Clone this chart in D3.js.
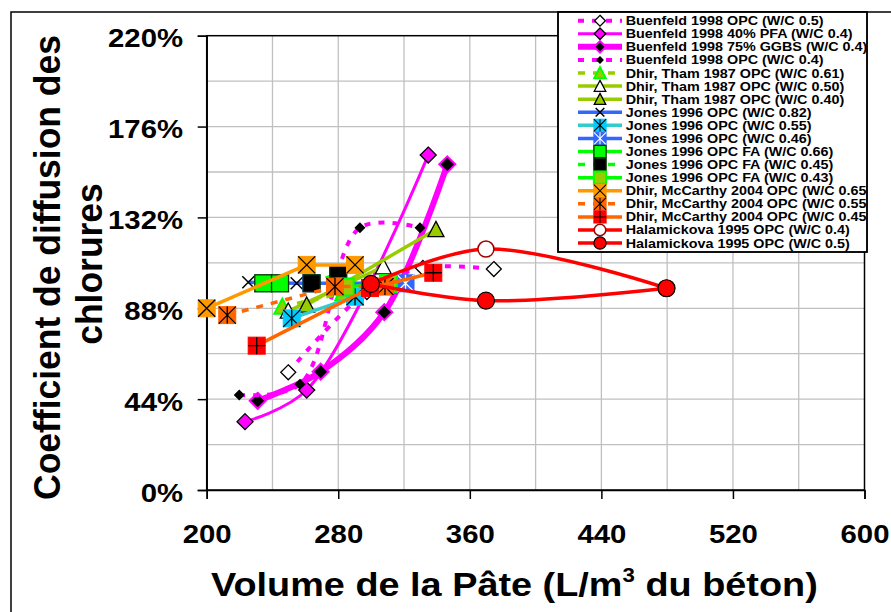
<!DOCTYPE html>
<html><head><meta charset="utf-8">
<script src="https://cdn.jsdelivr.net/npm/d3@7"></script>
<style>
body{margin:0;background:#fff}
svg{display:block}
text{font-family:Arial,"Liberation Sans",sans-serif;font-weight:bold;fill:#000}
</style>
</head><body>
<svg id="chart" width="891" height="612"></svg>
<script>
// ---------- DATA ----------
const xTickValues = [200, 280, 360, 440, 520, 600];
const yTickValues = [0, 44, 88, 132, 176, 220];
const xGridValues = [240, 280, 320, 360, 400, 440, 480, 520, 560];
const yGridValues = [22, 44, 66, 88, 110, 132, 154, 176, 198];

const seriesNames = [
  "Buenfeld 1998 OPC (W/C 0.5)",
  "Buenfeld 1998 40% PFA (W/C 0.4)",
  "Buenfeld 1998 75% GGBS (W/C 0.4)",
  "Buenfeld 1998 OPC (W/C 0.4)",
  "Dhir, Tham 1987 OPC (W/C 0.61)",
  "Dhir, Tham 1987 OPC (W/C 0.50)",
  "Dhir, Tham 1987 OPC (W/C 0.40)",
  "Jones 1996 OPC (W/C 0.82)",
  "Jones 1996 OPC (W/C 0.55)",
  "Jones 1996 OPC (W/C 0.46)",
  "Jones 1996 OPC FA (W/C 0.66)",
  "Jones 1996 OPC FA (W/C 0.45)",
  "Jones 1996 OPC FA (W/C 0.43)",
  "Dhir, McCarthy 2004 OPC (W/C 0.65)",
  "Dhir, McCarthy 2004 OPC (W/C 0.55)",
  "Dhir, McCarthy 2004 OPC (W/C 0.45)",
  "Halamickova 1995 OPC (W/C 0.4)",
  "Halamickova 1995 OPC (W/C 0.5)"
];

// [paste volume L/m3, chloride diffusion coefficient %]
const buenfeldOpc05   = [[249.6, 57.0], [297.4, 95.9], [331.5, 107.5], [374.6, 107.0]];
const buenfeldPfa40   = [[223.3, 33.1], [260.8, 48.4], [334.7, 162.2]];
const buenfeldGgbs75  = [[231.0, 43.2], [269.3, 57.3], [308.0, 86.1], [346.3, 157.7]];
const buenfeldOpc04   = [[219.8, 46.0], [256.7, 51.2], [293.2, 127.0], [329.7, 127.0]];
const dhirTham061     = [[246.0, 88.8], [283.0, 95.4]];
const dhirTham050     = [[249.6, 86.7], [307.4, 108.1]];
const dhirTham040     = [[260.8, 89.6], [339.4, 126.2]];
const jonesOpc082     = [[225.3, 100.6], [254.7, 100.1], [263.6, 100.1]];
const jonesOpc055     = [[251.7, 83.1], [290.2, 93.6]];
const jonesOpc046     = [[263.6, 100.1], [320.9, 100.1]];
const jonesFa066      = [[234.4, 100.1], [244.6, 100.1]];
const jonesFa045      = [[263.8, 100.1], [280.0, 104.9]];
const jonesFa043      = [[284.2, 98.3], [310.5, 100.0]];
const dhirMcCarthy065 = [[200.0, 88.0], [260.8, 109.0], [290.2, 109.0]];
const dhirMcCarthy055 = [[212.5, 84.7], [278.0, 98.5], [308.4, 98.5]];
const dhirMcCarthy045 = [[230.4, 69.9], [299.3, 97.8], [337.8, 105.2]];
const halamickova04   = [[299.9, 99.8], [369.8, 116.7], [479.6, 97.7]];
const halamickova05   = [[299.9, 99.8], [369.8, 91.7], [479.6, 97.7]];

const seriesData = [buenfeldOpc05, buenfeldPfa40, buenfeldGgbs75, buenfeldOpc04,
  dhirTham061, dhirTham050, dhirTham040, jonesOpc082, jonesOpc055, jonesOpc046,
  jonesFa066, jonesFa045, jonesFa043, dhirMcCarthy065, dhirMcCarthy055, dhirMcCarthy045,
  halamickova04, halamickova05];

// ---------- STYLES ----------
const MAG = "#FF00FF", YG = "#99CC00", GR = "#00FF00", BL = "#3366FF", CY = "#33CCCC",
      OR = "#FF9900", OR2 = "#FF6600", RD = "#FF0000";
const styles = [
  {c: MAG, w: 4, dash: "6,8", smooth: true, m: {shape: "diamond", r: 7.5, fill: "#fff", stroke: "#000", sw: 1.3}},
  {c: MAG, w: 3, smooth: true, m: {shape: "diamond", r: 8, fill: MAG, stroke: "#000", sw: 1.3}},
  {c: MAG, w: 6, smooth: true, m: {shape: "diamond", r: 8, fill: "#000", stroke: MAG, sw: 2}},
  {c: MAG, w: 4, dash: "6,8", smooth: true, m: {shape: "diamond", r: 5.5, fill: "#000", stroke: "none", sw: 0}},
  {c: YG, w: 3.5, dash: "7,8", m: {shape: "triangle", r: 8, fill: YG, stroke: GR, sw: 2}},
  {c: YG, w: 3.5, m: {shape: "triangle", r: 8, fill: "#fff", stroke: "#000", sw: 1.3}},
  {c: YG, w: 3.5, m: {shape: "triangle", r: 8, fill: YG, stroke: "#000", sw: 1.3}},
  {c: BL, w: 3.5, m: {shape: "x", r: 6, stroke: "#000", sw: 1.5}},
  {c: CY, w: 3.5, m: {shape: "square", r: 8.5, fill: "#00CCFF", stroke: "#00CCFF", sw: 1, sym: "ast", symc: "#000"}},
  {c: BL, w: 3.5, m: {shape: "square", r: 8.5, fill: BL, stroke: BL, sw: 1, sym: "ast", symc: "#fff"}},
  {c: GR, w: 3.5, m: {shape: "square", r: 8.5, fill: GR, stroke: "#003300", sw: 1.3}},
  {c: GR, w: 3.5, dash: "7,8", m: {shape: "square", r: 8.5, fill: "#000", stroke: "#003300", sw: 1.3}},
  {c: GR, w: 3.5, m: {shape: "square", r: 8.5, fill: YG, stroke: GR, sw: 2}},
  {c: OR, w: 3.5, m: {shape: "square", r: 8.5, fill: OR, stroke: OR, sw: 1, sym: "x", symc: "#000"}},
  {c: OR2, w: 3.5, dash: "7,8", m: {shape: "square", r: 8.5, fill: OR2, stroke: OR2, sw: 1, sym: "ast", symc: "#000"}},
  {c: OR2, w: 3.5, m: {shape: "square", r: 8.5, fill: RD, stroke: RD, sw: 1, sym: "plus", symc: "#000"}},
  {c: RD, w: 3.5, smooth: true, m: {shape: "circle", r: 8, fill: "#fff", stroke: "#A00000", sw: 1.5}},
  {c: RD, w: 3.5, smooth: true, m: {shape: "circle", r: 8.5, fill: RD, stroke: "#000", sw: 1.2}}
];

// ---------- LAYOUT ----------
const svg = d3.select("#chart");
const x = d3.scaleLinear().domain([200, 600]).range([206.7, 864.5]);
const y = d3.scaleLinear().domain([0, 220]).range([490, 35.7]);

// outer frame
svg.append("rect").attr("x", 11).attr("y", 12).attr("width", 900).attr("height", 640)
  .attr("fill", "#fff").attr("stroke", "#000").attr("stroke-width", 1.5);

// plot area
svg.append("rect").attr("x", x(200)).attr("y", y(220))
  .attr("width", x(600) - x(200)).attr("height", y(0) - y(220)).attr("fill", "#fff");

const grid = svg.append("g");
grid.selectAll(".gx").data(xGridValues).join("line")
  .attr("x1", d => x(d)).attr("x2", d => x(d)).attr("y1", y(0)).attr("y2", y(220))
  .attr("stroke", "#C0C0C0").attr("stroke-width", 1.3);
grid.selectAll(".gy").data(yGridValues).join("line")
  .attr("y1", d => y(d)).attr("y2", d => y(d)).attr("x1", x(200)).attr("x2", x(600))
  .attr("stroke", "#C0C0C0").attr("stroke-width", 1.3);

svg.append("rect").attr("x", x(200)).attr("y", y(220))
  .attr("width", x(600) - x(200)).attr("height", y(0) - y(220))
  .attr("fill", "none").attr("stroke", "#000").attr("stroke-width", 1.5);

// axes
const yAxis = svg.append("g").attr("transform", `translate(${x(200)},0)`)
  .call(d3.axisLeft(y).tickValues(yTickValues).tickSize(9).tickFormat(d => d + "%"));
const xAxis = svg.append("g").attr("transform", `translate(0,${y(0)})`)
  .call(d3.axisBottom(x).tickValues(xTickValues).tickSize(9).tickFormat(d => d));
[yAxis, xAxis].forEach(a => {
  a.select(".domain").attr("stroke", "#000").attr("stroke-width", 1.5);
  a.selectAll(".tick line").attr("stroke", "#000").attr("stroke-width", 1.5);
  a.selectAll("text").attr("font-size", 26).attr("font-family", "Arial, 'Liberation Sans', sans-serif")
    .attr("font-weight", "bold").attr("fill", "#000");
});
// horizontal stretch of tick labels to match reference widths
const sY = 75 / yAxis.selectAll(".tick text").nodes()[5].getComputedTextLength();
yAxis.selectAll(".tick text")
  .attr("x", -23.7 / sY).attr("dy", 0).attr("y", 11)
  .attr("transform", `scale(${sY},1)`);
xAxis.selectAll(".tick text")
  .attr("x", 0).attr("dy", 0).attr("y", 53)
  .attr("transform", `scale(${sY},1)`);

// axis titles
const xt = svg.append("text").attr("font-size", 34).attr("text-anchor", "start");
xt.append("tspan").text("Volume de la Pâte (L/m");
xt.append("tspan").text("3").attr("font-size", 20).attr("dy", -14);
xt.append("tspan").text(" du béton)").attr("dy", 14);
{
  const w = xt.node().getBBox().width;
  const s = 607 / w;
  xt.attr("transform", `translate(211,596) scale(${s},1)`);
}
const yt1 = svg.append("text").attr("font-size", 36).attr("text-anchor", "middle")
  .text("Coefficient de diffusion des");
const yt2 = svg.append("text").attr("font-size", 36).attr("text-anchor", "middle")
  .text("chlorures");
{
  const s = 465 / yt1.node().getComputedTextLength();
  yt1.attr("transform", `translate(60,267.5) rotate(-90) scale(${s},1)`);
  yt2.attr("transform", `translate(102,264) rotate(-90) scale(${s},1)`);
}

// ---------- MARKERS ----------
function drawMarker(g, m, cx, cy, k) {
  const r = m.r * k;
  if (m.shape === "diamond") {
    g.append("path").attr("d", `M${cx},${cy - r}L${cx + r},${cy}L${cx},${cy + r}L${cx - r},${cy}Z`)
      .attr("fill", m.fill).attr("stroke", m.stroke).attr("stroke-width", m.sw);
  } else if (m.shape === "triangle") {
    g.append("path").attr("d", `M${cx},${cy - r}L${cx + r},${cy + r * 0.9}L${cx - r},${cy + r * 0.9}Z`)
      .attr("fill", m.fill).attr("stroke", m.stroke).attr("stroke-width", m.sw).attr("stroke-linejoin", "miter");
  } else if (m.shape === "circle") {
    g.append("circle").attr("cx", cx).attr("cy", cy).attr("r", r)
      .attr("fill", m.fill).attr("stroke", m.stroke).attr("stroke-width", m.sw);
  } else if (m.shape === "x") {
    g.append("path").attr("d", `M${cx - r},${cy - r}L${cx + r},${cy + r}M${cx - r},${cy + r}L${cx + r},${cy - r}`)
      .attr("stroke", m.stroke).attr("stroke-width", m.sw).attr("fill", "none");
  } else if (m.shape === "square") {
    g.append("rect").attr("x", cx - r).attr("y", cy - r).attr("width", 2 * r).attr("height", 2 * r)
      .attr("fill", m.fill).attr("stroke", m.stroke).attr("stroke-width", m.sw);
    let d = "";
    if (m.sym === "x" || m.sym === "ast") d += `M${cx - r},${cy - r}L${cx + r},${cy + r}M${cx - r},${cy + r}L${cx + r},${cy - r}`;
    if (m.sym === "ast") d += `M${cx},${cy - r}L${cx},${cy + r}`;
    if (m.sym === "plus") d += `M${cx},${cy - r}L${cx},${cy + r}M${cx - r},${cy}L${cx + r},${cy}`;
    if (d) g.append("path").attr("d", d).attr("stroke", m.symc).attr("stroke-width", 1.3 * Math.max(k, 0.8)).attr("fill", "none");
  }
}

// ---------- SERIES ----------
const plot = svg.append("g");
seriesData.forEach((data, i) => {
  const st = styles[i];
  const line = d3.line().x(d => x(d[0])).y(d => y(d[1]))
    .curve(st.smooth ? d3.curveCatmullRom.alpha(0.5) : d3.curveLinear);
  const g = plot.append("g");
  g.append("path").attr("d", line(data)).attr("fill", "none")
    .attr("stroke", st.c).attr("stroke-width", st.w)
    .attr("stroke-dasharray", st.dash || null).attr("stroke-linejoin", "round");
  data.forEach(d => drawMarker(g, st.m, x(d[0]), y(d[1]), 1));
});

// ---------- LEGEND ----------
const LX = 558, LY = 12, LW = 309, LH = 240;
const lg = svg.append("g");
svg.append("clipPath").attr("id", "lgclip").append("rect")
  .attr("x", LX).attr("y", LY).attr("width", LW).attr("height", LH);
lg.append("rect").attr("x", LX).attr("y", LY).attr("width", LW).attr("height", LH)
  .attr("fill", "#fff").attr("stroke", "#000").attr("stroke-width", 1.5);
const lgInner = lg.append("g").attr("clip-path", "url(#lgclip)");
let legendStretch = null;
seriesNames.forEach((name, i) => {
  const st = styles[i];
  const cy = 20.7 + i * 13.08;
  const row = lgInner.append("g");
  row.append("line").attr("x1", 578).attr("x2", 622).attr("y1", cy).attr("y2", cy)
    .attr("stroke", st.c).attr("stroke-width", st.w).attr("stroke-dasharray", st.dash || null);
  drawMarker(row, st.m, 600, cy, 0.72);
  const t = row.append("text").attr("font-size", 12).text(name);
  if (legendStretch === null) legendStretch = 198 / t.node().getComputedTextLength();
  t.attr("transform", `translate(625.7,${cy + 4.5}) scale(${legendStretch},1)`);
});
lg.append("rect").attr("x", LX).attr("y", LY).attr("width", LW).attr("height", LH)
  .attr("fill", "none").attr("stroke", "#000").attr("stroke-width", 1.5);
</script>
</body></html>
